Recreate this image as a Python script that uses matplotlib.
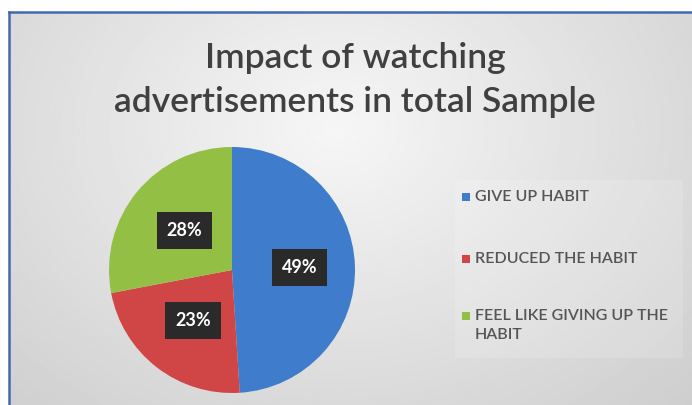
import numpy as np
import matplotlib
matplotlib.use('Agg')
import matplotlib.pyplot as plt
from matplotlib.patches import Rectangle

# data
labels = ['GIVE UP HABIT', 'REDUCED THE HABIT', 'FEEL LIKE GIVING UP THE\nHABIT']
shares = [49, 23, 28]
colors = ['#3f7ccc', '#d04545', '#93bf45']
title = 'Impact of watching\nadvertisements in total Sample'

W, H = 692, 405
fig = plt.figure(figsize=(W / 100, H / 100), dpi=100)
fig.patch.set_facecolor('white')

# background slide with soft radial shading
bg = fig.add_axes([0, 0, 1, 1])
bg.set_xlim(0, W)
bg.set_ylim(H, 0)
bg.axis('off')
yy, xx = np.mgrid[0:H, 0:W]
d = np.sqrt(((xx - 330) / 420.0) ** 2 + ((yy - 120) / 330.0) ** 2)
shade = np.clip(0.965 - 0.13 * d, 0.8, 0.965)
bg.imshow(shade, cmap='gray', vmin=0, vmax=1, extent=[9, W, H, 12], zorder=0)
bg.plot([9, 9], [H, 12], color='#4568b0', lw=1.8, zorder=2)
bg.plot([9, W], [12, 12], color='#4568b0', lw=1.8, zorder=2)
# lighter legend panel
bg.add_patch(Rectangle((455, 180), 228, 178, facecolor='white', alpha=0.15,
                       edgecolor='none', zorder=1))

bg.text(355, 80, title, ha='center', va='center', fontsize=25.5,
        family='Lato', fontweight='semibold', color='#404040',
        linespacing=1.45, zorder=3)

# pie
ax = fig.add_axes([(232 - 123) / W, 1 - (270 + 123) / H, 246 / W, 246 / H])
wedges, _ = ax.pie(shares, colors=colors, startangle=90, counterclock=False,
                   wedgeprops=dict(linewidth=0))
ax.set_xlim(-1, 1)
ax.set_ylim(-1, 1)
ax.set_aspect('equal')
lab_r = [0.55, 0.52, 0.5]
for w, s, r in zip(wedges, shares, lab_r):
    ang = np.deg2rad((w.theta1 + w.theta2) / 2)
    ax.text(r * np.cos(ang), r * np.sin(ang), '%d%%' % s, ha='center',
            va='center', fontsize=13, fontweight='bold', family='Lato',
            color='white',
            bbox=dict(boxstyle='square,pad=0.55', facecolor='#2a2a2a',
                      edgecolor='none'))

# legend
leg_y = [197, 259, 316]
for lab, c, y in zip(labels, colors, leg_y):
    bg.add_patch(Rectangle((462, y - 4), 8, 8, facecolor=c, edgecolor='none',
                           zorder=3))
    bg.text(475, y - 7, lab, ha='left', va='top', fontsize=11.5,
            family='Lato', fontweight='semibold', color='#555555',
            linespacing=1.45, zorder=3)

fig.savefig('out.png', dpi=100)
